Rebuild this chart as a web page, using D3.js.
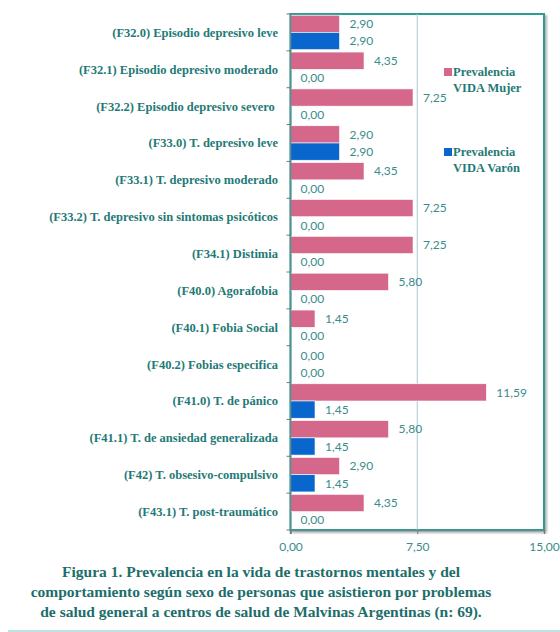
<!DOCTYPE html>
<html>
<head>
<meta charset="utf-8">
<script src="https://cdn.jsdelivr.net/npm/d3@7"></script>
<style>
  body { margin: 0; background: #fff; }
  svg { display: block; }
</style>
</head>
<body>
<div id="chart"></div>
<script>
// categories, top to bottom
const categories = [
  '(F32.0) Episodio depresivo leve',
  '(F32.1) Episodio depresivo moderado',
  '(F32.2) Episodio depresivo severo ',
  '(F33.0) T. depresivo leve',
  '(F33.1) T. depresivo moderado',
  '(F33.2) T. depresivo sin sintomas psicóticos',
  '(F34.1) Distimia',
  '(F40.0) Agorafobia',
  '(F40.1) Fobia Social',
  '(F40.2) Fobias especifica',
  '(F41.0) T. de pánico',
  '(F41.1) T. de ansiedad generalizada',
  '(F42) T. obsesivo-compulsivo',
  '(F43.1) T. post-traumático'
];
const mujer = [2.90, 4.35, 7.25, 2.90, 4.35, 7.25, 7.25, 5.80, 1.45, 0.00, 11.59, 5.80, 2.90, 4.35];
const varon = [2.90, 0.00, 0.00, 2.90, 0.00, 0.00, 0.00, 0.00, 0.00, 0.00, 1.45, 1.45, 1.45, 0.00];
const seriesNames = ['Prevalencia VIDA Mujer', 'Prevalencia VIDA Varón'];
const xTicks = [0, 7.5, 15];
const captionLines = [
  'Figura 1. Prevalencia en la vida de trastornos mentales y del',
  'comportamiento según sexo de personas que asistieron por problemas',
  'de salud general a centros de salud de Malvinas Argentinas (n: 69).'
];

const W = 560, H = 632;
const colors = ['#d4678a', '#0866cc'];
const teal = '#1f7a76';
const valColor = '#3a8c8a';
const SERIF = '"Liberation Serif"';
const SANS = 'Lato';
const fmt = v => v.toFixed(2).replace('.', ',');

const svg = d3.select('#chart').append('svg')
  .attr('width', W)
  .attr('height', H);

const defs = svg.append('defs');
const sh = defs.append('filter').attr('id', 'shadow')
  .attr('x', '-5%').attr('y', '-5%').attr('width', '110%').attr('height', '110%');
sh.append('feDropShadow').attr('dx', 2).attr('dy', 2).attr('stdDeviation', 1.2)
  .attr('flood-color', '#000').attr('flood-opacity', 0.3);

// outer frame
svg.append('line').attr('x1', 7).attr('x2', W).attr('y1', 7).attr('y2', 7)
  .attr('stroke', '#1aa39b').attr('stroke-width', 2.5).attr('filter', 'url(#shadow)');
svg.append('line').attr('x1', 8).attr('x2', 8).attr('y1', 6).attr('y2', H)
  .attr('stroke', '#1aa39b').attr('stroke-width', 2.5).attr('filter', 'url(#shadow)');
svg.append('line').attr('x1', 8).attr('x2', W).attr('y1', 631).attr('y2', 631)
  .attr('stroke', '#a9dad6').attr('stroke-width', 1.5);

// scales
const x = d3.scaleLinear().domain([0, 15]).range([290.5, 544]);
const y = d3.scaleBand().domain(categories).range([14, 530]).padding(0);
const sub = d3.scaleBand().domain([0, 1]).range([0, y.bandwidth()]).paddingOuter(0.07);

// plot area box
svg.append('rect')
  .attr('x', x(0)).attr('y', y.range()[0])
  .attr('width', x(15) - x(0)).attr('height', y.range()[1] - y.range()[0])
  .attr('fill', '#fff')
  .attr('stroke', '#2a9d95').attr('stroke-width', 2)
  .attr('filter', 'url(#shadow)');

// gridline
svg.append('g')
  .selectAll('line')
  .data(xTicks.slice(1, -1))
  .enter().append('line')
  .attr('x1', d => x(d)).attr('x2', d => x(d))
  .attr('y1', y.range()[0]).attr('y2', y.range()[1])
  .attr('stroke', '#a9c9cf').attr('stroke-width', 1);

// bars
const rows = [];
categories.forEach((c, i) => {
  rows.push({ cat: c, s: 0, v: mujer[i] });
  rows.push({ cat: c, s: 1, v: varon[i] });
});

svg.append('g')
  .selectAll('rect')
  .data(rows.filter(d => d.v > 0))
  .enter().append('rect')
  .attr('x', x(0))
  .attr('y', d => y(d.cat) + sub(d.s))
  .attr('width', d => x(d.v) - x(0))
  .attr('height', sub.bandwidth())
  .attr('fill', d => colors[d.s])
  .attr('stroke', '#fff')
  .attr('stroke-width', 0.6);

// value labels
svg.append('g')
  .selectAll('text')
  .data(rows)
  .enter().append('text')
  .attr('x', d => x(d.v) + 10)
  .attr('y', d => y(d.cat) + sub(d.s) + sub.bandwidth() / 2)
  .attr('dy', '0.35em')
  .attr('fill', valColor)
  .style('font-family', SANS)
  .style('font-size', '12px')
  .text(d => fmt(d.v));

// left axis line + ticks at band edges
const yAxisG = svg.append('g');
yAxisG.append('line')
  .attr('x1', x(0)).attr('x2', x(0))
  .attr('y1', y.range()[0]).attr('y2', y.range()[1] + 4)
  .attr('stroke', '#5a8f8c').attr('stroke-width', 1.5);
yAxisG.selectAll('.tk')
  .data(categories.map(c => y(c)).concat([y.range()[1]]))
  .enter().append('line')
  .attr('x1', x(0) - 4).attr('x2', x(0))
  .attr('y1', d => d).attr('y2', d => d)
  .attr('stroke', '#777').attr('stroke-width', 1);

// category labels
svg.append('g')
  .selectAll('text')
  .data(categories)
  .enter().append('text')
  .attr('x', 278)
  .attr('y', d => y(d) + y.bandwidth() / 2)
  .attr('dy', '0.35em')
  .attr('text-anchor', 'end')
  .attr('fill', teal)
  .style('font-family', SERIF)
  .style('font-weight', 'bold')
  .style('font-size', '12.5px')
  .style('white-space', 'pre')
  .text(d => d);

// bottom axis
const xAxis = d3.axisBottom(x)
  .tickValues(xTicks)
  .tickFormat(fmt)
  .tickSize(4)
  .tickPadding(8);
const xg = svg.append('g')
  .attr('transform', `translate(0,${y.range()[1]})`)
  .call(xAxis);
xg.select('.domain').attr('stroke', '#5a8f8c').attr('stroke-width', 1.5);
xg.selectAll('.tick line').attr('stroke', '#777');
xg.selectAll('.tick text')
  .attr('fill', valColor)
  .style('font-family', SANS)
  .style('font-size', '12px');

// legend
const legend = svg.append('g');
const legendY = [72, 152];
seriesNames.forEach((name, i) => {
  const g = legend.append('g').attr('transform', `translate(444,${legendY[i]})`);
  g.append('rect').attr('x', 0).attr('y', -4).attr('width', 8).attr('height', 8)
    .attr('fill', colors[i]);
  const words = name.split(' ');
  const lines = [words[0], words.slice(1).join(' ')];
  lines.forEach((ln, j) => {
    g.append('text')
      .attr('x', 9).attr('y', j * 16)
      .attr('dy', '0.35em')
      .attr('fill', teal)
      .style('font-family', SERIF)
      .style('font-weight', 'bold')
      .style('font-size', '12.5px')
      .text(ln);
  });
});

// caption
svg.append('g')
  .selectAll('text')
  .data(captionLines)
  .enter().append('text')
  .attr('x', 261)
  .attr('y', (d, i) => 577 + i * 20)
  .attr('text-anchor', 'middle')
  .attr('fill', '#1d6e6b')
  .style('font-family', SERIF)
  .style('font-weight', 'bold')
  .style('font-size', '15.5px')
  .text(d => d);
</script>
</body>
</html>
